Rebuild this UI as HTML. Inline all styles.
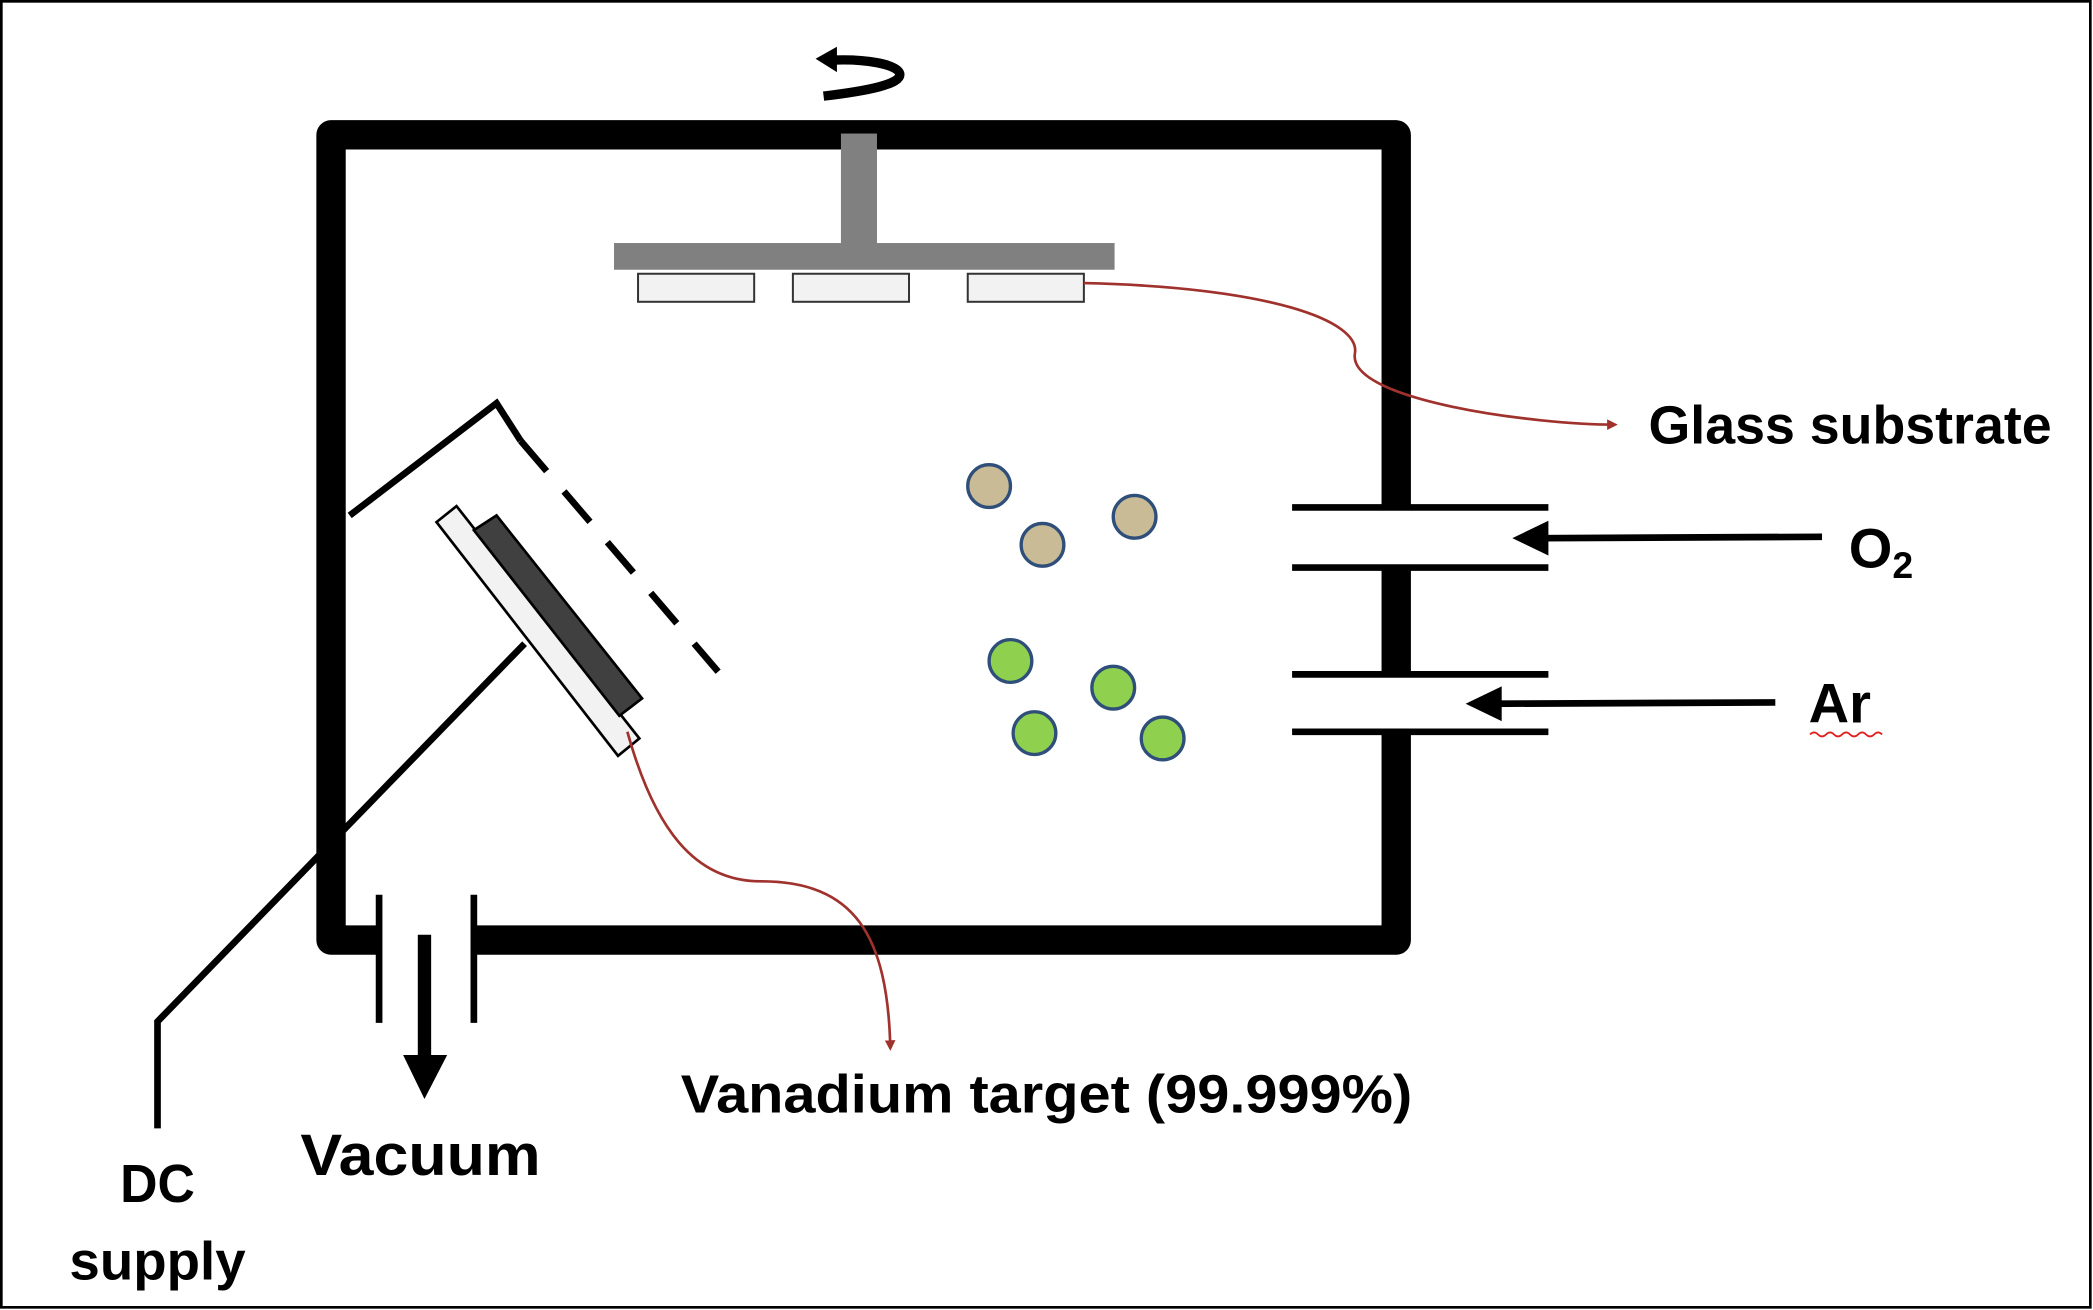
<!DOCTYPE html>
<html><head><meta charset="utf-8"><style>
html,body{margin:0;padding:0;background:#fff;}
svg{display:block;}
text{font-family:"Liberation Sans",sans-serif;font-weight:bold;fill:#000;}
</style></head><body>
<svg width="2093" height="1310" viewBox="0 0 1568 981" preserveAspectRatio="none">
<defs>
<marker id="ar" markerWidth="8" markerHeight="8" refX="6" refY="4" orient="auto" markerUnits="userSpaceOnUse"><path d="M0,0 L8,4 L0,8 Z" fill="#a0322d"/></marker>
</defs>
<rect x="1" y="1" width="1565" height="978" fill="none" stroke="#000" stroke-width="2"/>
<g stroke="#000" stroke-width="22" stroke-linecap="butt" stroke-linejoin="round" fill="none">
<path d="M283,704 L248,704 L248,101 L1046,101 L1046,380"/>
<path d="M1046,425 L1046,505"/>
<path d="M1046,548 L1046,704 L355,704"/>
</g>
<g>
<rect x="630" y="100" width="27" height="84" fill="#808080"/>
<rect x="460" y="182" width="375" height="20" fill="#808080"/>
<rect x="478" y="205" width="87" height="21" fill="#f2f2f2" stroke="#333" stroke-width="1.5"/>
<rect x="594" y="205" width="87" height="21" fill="#f2f2f2" stroke="#333" stroke-width="1.5"/>
<rect x="725" y="205" width="87" height="21" fill="#f2f2f2" stroke="#333" stroke-width="1.5"/>
</g>
<g>
<path d="M617,72 C650,68 676,63 674,55 C672,48 648,44 624,45" fill="none" stroke="#000" stroke-width="7"/>
<path d="M611,44 L627,35 L627,54 Z" fill="#000"/>
</g>
<path d="M812,212 C950,215 1020,240 1015,265 C1010,300 1150,318 1210,318" fill="none" stroke="#a0322d" stroke-width="2" marker-end="url(#ar)"/>
<text x="1235" y="332" font-size="40" textLength="302" lengthAdjust="spacingAndGlyphs">Glass substrate</text>
<g stroke="#000" stroke-width="5">
<line x1="968" y1="380" x2="1160" y2="380"/><line x1="968" y1="425" x2="1160" y2="425"/>
<line x1="968" y1="505" x2="1160" y2="505"/><line x1="968" y1="548" x2="1160" y2="548"/>
<line x1="1365" y1="402" x2="1155" y2="403"/>
<line x1="1330" y1="526" x2="1120" y2="527"/>
</g>
<path d="M1133,403 L1160,390 L1160,416 Z"/>
<path d="M1098,527 L1125,514 L1125,540 Z"/>
<text x="1385" y="425" font-size="42">O<tspan font-size="28" dy="8">2</tspan></text>
<text x="1355" y="541" font-size="42">Ar</text>
<path d="M1356,550 q3,-3 6,0 q3,3 6,0 q3,-3 6,0 q3,3 6,0 q3,-3 6,0 q3,3 6,0 q3,-3 6,0 q3,3 6,0 q3,-3 6,0" fill="none" stroke="#e02020" stroke-width="1.3"/>
<g fill="#c8bb95" stroke="#2f4f7a" stroke-width="2.5">
<circle cx="741" cy="364" r="16"/><circle cx="781" cy="408" r="16"/><circle cx="850" cy="387" r="16"/>
</g>
<g fill="#8fd14f" stroke="#2f4f7a" stroke-width="2.5">
<circle cx="757" cy="495" r="16"/><circle cx="834" cy="515" r="16"/><circle cx="775" cy="549" r="16"/><circle cx="871" cy="553" r="16"/>
</g>
<g stroke="#000" stroke-width="5" fill="none">
<path d="M262,386 L372,302 L390,330"/>
<path d="M390,330 L538,503" stroke-dasharray="30,20"/>
</g>
<g stroke="#000" stroke-width="2">
<polygon points="327,391 342,379 479,553 463,566" fill="#f2f2f2"/>
<polygon points="355,397 372,386 481,523 464,536" fill="#404040"/>
</g>
<path d="M393,482 L118,765 L118,845" fill="none" stroke="#000" stroke-width="5"/>
<g stroke="#000" stroke-width="5">
<line x1="284" y1="670" x2="284" y2="766"/><line x1="355" y1="670" x2="355" y2="766"/>
<line x1="318" y1="700" x2="318" y2="792" stroke-width="10"/>
</g>
<path d="M302,790 L335,790 L318,823 Z"/>
<path d="M470,548 C490,620 520,660 570,660 C640,660 665,700 667,785" fill="none" stroke="#a0322d" stroke-width="2" marker-end="url(#ar)"/>
<text x="510" y="833" font-size="40" textLength="548" lengthAdjust="spacingAndGlyphs">Vanadium target (99.999%)</text>
<text x="225" y="880" font-size="44" textLength="180" lengthAdjust="spacingAndGlyphs">Vacuum</text>
<text x="90" y="900" font-size="40" textLength="56" lengthAdjust="spacingAndGlyphs">DC</text>
<text x="52" y="958" font-size="40" textLength="132" lengthAdjust="spacingAndGlyphs">supply</text>
</svg>
</body></html>
